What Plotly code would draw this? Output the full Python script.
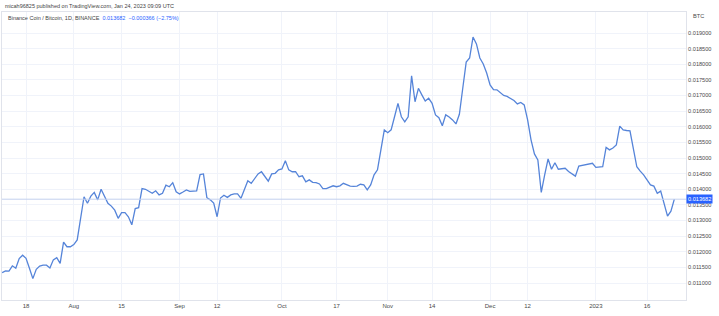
import pandas as pd
import plotly.graph_objects as go

# ---- data (BNB/BTC daily close) ----
jul = [0.01133, 0.01139, 0.01138, 0.01155, 0.01147, 0.01178, 0.01189, 0.01179, 0.01147, 0.01114,
       0.01144, 0.01154, 0.01157, 0.01157, 0.01148, 0.01174, 0.01181, 0.01163, 0.01231, 0.01216,
       0.01216]  # Jul 11 - Jul 31
aug = [0.01223, 0.01238, 0.01302, 0.01376, 0.01355, 0.01378, 0.01390, 0.01366, 0.01400, 0.01376,
       0.01355, 0.01346, 0.01333, 0.01307, 0.01325, 0.01325, 0.01312, 0.01286, 0.01338, 0.01341,
       0.01402, 0.01400, 0.01394, 0.01387, 0.01395, 0.01382, 0.01387, 0.01413, 0.01408, 0.01421,
       0.01392]
sep = [0.01385, 0.01391, 0.01398, 0.01393, 0.01394, 0.01395, 0.01447, 0.01449, 0.01373, 0.01366,
       0.01356, 0.01312, 0.01372, 0.01381, 0.01374, 0.01382, 0.01385, 0.01385, 0.01371, 0.01400,
       0.01427, 0.01419, 0.01433, 0.01449, 0.01456, 0.01442, 0.01426, 0.01449, 0.01451, 0.01462]
oct_ = [0.01465, 0.01491, 0.01462, 0.01456, 0.01456, 0.01440, 0.01443, 0.01424, 0.01430, 0.01422,
        0.01421, 0.01417, 0.01402, 0.01402, 0.01406, 0.01411, 0.01408, 0.01411, 0.01419, 0.01414,
        0.01410, 0.01409, 0.01410, 0.01416, 0.01414, 0.01398, 0.01414, 0.01446, 0.01462, 0.01526,
        0.01590]
nov = [0.01581, 0.01590, 0.01632, 0.01675, 0.01632, 0.01616, 0.01632, 0.01763, 0.01680, 0.01723,
       0.01702, 0.01682, 0.01691, 0.01675, 0.01638, 0.01629, 0.01603, 0.01638, 0.01631, 0.01622,
       0.01609, 0.01640, 0.01724, 0.01807, 0.01820, 0.01887, 0.01865, 0.01820, 0.01801, 0.01772]
dec = [0.01734, 0.01719, 0.01718, 0.01708, 0.01700, 0.01697, 0.01690, 0.01684, 0.01673, 0.01678,
       0.01670, 0.01622, 0.01558, 0.01513, 0.01494, 0.01390, 0.01446, 0.01497, 0.01464, 0.01485,
       0.01464, 0.01466, 0.01467, 0.01457, 0.01449, 0.01442, 0.01474, 0.01476, 0.01478, 0.01481,
       0.01483]
jan = [0.01470, 0.01471, 0.01472, 0.01534, 0.01526, 0.01532, 0.01542, 0.01602, 0.01590, 0.01588,
       0.01587, 0.01529, 0.01472, 0.01458, 0.01446, 0.01430, 0.01414, 0.01410, 0.01387, 0.01394,
       0.01350, 0.01314, 0.01330, 0.013682]

prices = jul + aug + sep + oct_ + nov + dec + jan
dates = pd.date_range("2022-07-11", "2023-01-24", freq="D")
assert len(dates) == len(prices), (len(dates), len(prices))

last_price = 0.013682
y_tick_vals = [0.0110, 0.0115, 0.0120, 0.0125, 0.0130, 0.0135, 0.0140, 0.0145, 0.0150,
               0.0155, 0.0160, 0.0165, 0.0170, 0.0175, 0.0180, 0.0185, 0.0190]
x_tick_vals = ["2022-07-18", "2022-08-01", "2022-08-15", "2022-09-01", "2022-09-12",
               "2022-10-01", "2022-10-17", "2022-11-01", "2022-11-14", "2022-12-01",
               "2022-12-12", "2023-01-01", "2023-01-16"]
x_tick_text = ["18", "Aug", "15", "Sep", "12", "Oct", "17", "Nov", "14", "Dec", "12", "2023", "16"]

FONT = "Liberation Sans"
BLUE = "#2962ff"
LINE = "#5584d9"
GRID = "#f0f3fa"
BORDER = "#e0e3eb"
TXT = "#4a4a4a"

fig = go.Figure()
fig.add_trace(go.Scatter(x=dates, y=prices, mode="lines",
                         line=dict(color=LINE, width=1.3), hoverinfo="skip", showlegend=False))

fig.add_shape(type="line", xref="paper", x0=0, x1=1, yref="y", y0=last_price, y1=last_price,
              line=dict(color="#c3d0ee", width=1))

fig.update_layout(
    width=719, height=316,
    margin=dict(l=2, r=33, t=12, b=16),
    paper_bgcolor="white", plot_bgcolor="white",
    font=dict(family=FONT, size=6, color=TXT),
    xaxis=dict(range=["2022-07-10 23:00", "2023-01-27 10:00"],
               tickvals=x_tick_vals, ticktext=x_tick_text,
               showgrid=True, gridcolor=GRID, gridwidth=1,
               showline=True, linecolor=BORDER, linewidth=1, mirror=True,
               ticks="", zeroline=False, tickfont=dict(size=6, color=TXT)),
    yaxis=dict(range=[0.010456, 0.019672], side="right",
               tickvals=y_tick_vals, tickformat=".6f",
               showgrid=True, gridcolor=GRID, gridwidth=1,
               showline=True, linecolor=BORDER, linewidth=1, mirror=True,
               ticks="", zeroline=False, tickfont=dict(size=5.6, color=TXT)),
)

fig.add_annotation(xref="paper", yref="paper", x=0.0015, y=1.022, xanchor="left", yanchor="middle",
                   text="micah96825 published on TradingView.com, Jan 24, 2023 09:09 UTC",
                   showarrow=False, font=dict(size=5.5, color="#444444", family=FONT))
fig.add_annotation(xref="paper", yref="paper", x=0.006, y=0.980, xanchor="left", yanchor="middle",
                   text="Binance Coin / Bitcoin, 1D, BINANCE  <span style='color:#2962ff'>0.013682  "
                        "\u22120.000366 (\u22122.75%)</span>",
                   showarrow=False, font=dict(size=5.5, color="#444444", family=FONT))
fig.add_annotation(xref="paper", yref="paper", x=1.007, y=0.986, xanchor="left", yanchor="middle",
                   text="BTC", showarrow=False, font=dict(size=5.6, color=TXT, family=FONT))
fig.add_annotation(xref="paper", yref="y", x=1.0, y=last_price, xanchor="left", yanchor="middle",
                   text="0.013682", showarrow=False, bgcolor=BLUE, borderpad=1,
                   font=dict(size=5.6, color="white", family=FONT))

fig.write_html("out.html")
